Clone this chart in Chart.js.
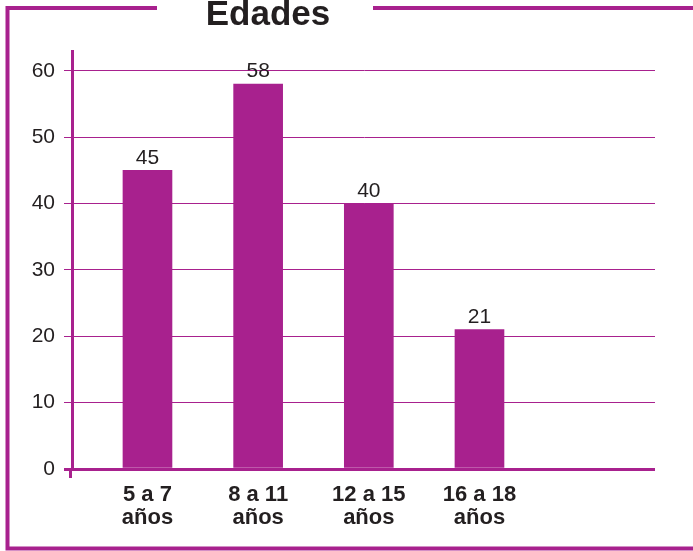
<!DOCTYPE html>
<html>
<head>
<meta charset="utf-8">
<script src="https://cdn.jsdelivr.net/npm/chart.js@4/dist/chart.umd.min.js"></script>
<style>
html,body{margin:0;padding:0;background:#fff;}
#wrap{width:693px;height:551px;position:relative;}
</style>
</head>
<body>
<div id="wrap"><canvas id="c" width="693" height="551"></canvas></div>
<script>
const titleText = "Edades";
const categories = [["5 a 7", "años"], ["8 a 11", "años"], ["12 a 15", "años"], ["16 a 18", "años"]];
const positions = [1, 2, 3, 4];
const values = [45, 58, 40, 21];
const yTicks = [0, 10, 20, 30, 40, 50, 60];

const MAG = "#a8218e";
const TXT = "#231f20";
const FONT = "'Liberation Sans', Arial, Helvetica, sans-serif";

const framePlugin = {
  id: "frame",
  afterDraw(chart) {
    const ctx = chart.ctx;
    const ca = chart.chartArea;
    ctx.save();
    ctx.strokeStyle = MAG;
    ctx.lineCap = "butt";
    ctx.lineWidth = 4;
    ctx.beginPath();
    ctx.moveTo(157, 8); ctx.lineTo(7.5, 8); ctx.lineTo(7.5, 548.5); ctx.lineTo(693, 548.5);
    ctx.stroke();
    ctx.beginPath();
    ctx.moveTo(373, 8); ctx.lineTo(693, 8);
    ctx.stroke();
    ctx.lineWidth = 3;
    ctx.beginPath();
    ctx.moveTo(ca.left - 1.5, ca.bottom); ctx.lineTo(ca.left - 1.5, ca.bottom + 9);
    ctx.stroke();
    ctx.fillStyle = TXT;
    ctx.font = "bold 35px " + FONT;
    ctx.textAlign = "center";
    ctx.textBaseline = "alphabetic";
    ctx.fillText(titleText, 268, 25);
    ctx.restore();
  },
  afterDatasetsDraw(chart) {
    const ctx = chart.ctx;
    const meta = chart.getDatasetMeta(0);
    ctx.save();
    ctx.fillStyle = TXT;
    ctx.font = "21px " + FONT;
    ctx.textAlign = "center";
    ctx.textBaseline = "bottom";
    meta.data.forEach((bar, i) => {
      ctx.fillText(String(values[i]), bar.x, bar.y - 2);
    });
    ctx.restore();
  }
};

new Chart(document.getElementById("c"), {
  type: "bar",
  data: {
    datasets: [{
      data: positions.map((p, i) => ({ x: p, y: values[i] })),
      backgroundColor: MAG,
      borderWidth: 0,
      barThickness: 49
    }]
  },
  options: {
    responsive: false,
    animation: false,
    layout: { padding: { left: 0, right: 38, top: 51, bottom: 0 } },
    plugins: { legend: { display: false }, title: { display: false }, tooltip: { enabled: false } },
    scales: {
      x: {
        type: "linear",
        min: 0.318,
        max: 5.586,
        offset: false,
        grid: { display: false },
        border: { display: false },
        afterBuildTicks(scale) { scale.ticks = positions.map(v => ({ value: v })); },
        afterFit(scale) { scale.height = 82; },
        ticks: {
          autoSkip: false,
          maxRotation: 0,
          padding: 6,
          color: TXT,
          font: { family: FONT, size: 22, weight: "bold", lineHeight: 1.05 },
          callback(v) { const i = positions.indexOf(v); return i >= 0 ? categories[i] : ""; }
        }
      },
      y: {
        min: 0,
        max: 63,
        afterBuildTicks(scale) { scale.ticks = yTicks.map(v => ({ value: v })); },
        afterFit(scale) { scale.width = 72; },
        grid: {
          color: MAG,
          lineWidth: ctx => (ctx.tick && ctx.tick.value === 0 ? 3 : 1),
          tickLength: 8,
          drawTicks: true
        },
        border: { display: true, color: MAG, width: 3 },
        ticks: {
          padding: 9,
          color: TXT,
          font: { family: FONT, size: 21 }
        }
      }
    }
  },
  plugins: [framePlugin]
});
</script>
</body>
</html>
